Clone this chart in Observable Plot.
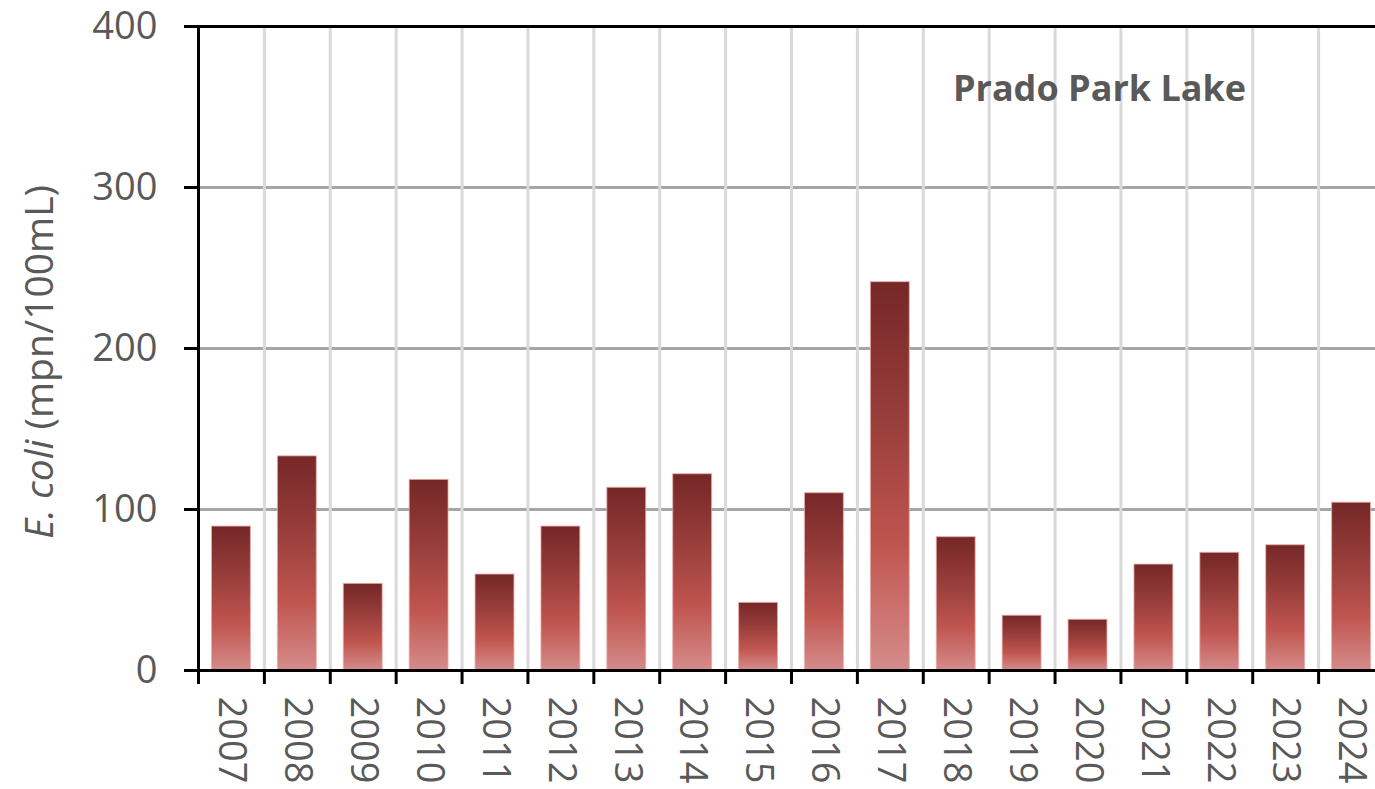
<!DOCTYPE html>
<html>
<head>
<meta charset="utf-8">
<script src="https://cdn.jsdelivr.net/npm/d3@7"></script>
<script src="https://cdn.jsdelivr.net/npm/@observablehq/plot@0.6"></script>
<style>
  html, body { margin: 0; padding: 0; background: #fff; overflow: hidden; }
  #chart { width: 1375px; height: 789px; overflow: hidden; }
  #chart svg { max-width: none !important; }
</style>
</head>
<body>
<svg width="0" height="0" style="position:absolute">
  <defs>
    <linearGradient id="barGrad" x1="0" y1="0" x2="0" y2="1">
      <stop offset="0" stop-color="#752727"/>
      <stop offset="0.35" stop-color="#983e3b"/>
      <stop offset="0.68" stop-color="#c0554f"/>
      <stop offset="1" stop-color="#d58c8b"/>
    </linearGradient>
  </defs>
</svg>
<div id="chart"></div>
<script>
const years = [2007, 2008, 2009, 2010, 2011, 2012, 2013, 2014, 2015, 2016, 2017, 2018, 2019, 2020, 2021, 2022, 2023, 2024];
const ecoli = [89.4, 133, 53.8, 118.4, 59.6, 89.4, 113.5, 121.9, 42, 110.1, 241.2, 82.8, 34, 31.5, 65.8, 73.1, 77.8, 104.2];
const yTicks = [0, 100, 200, 300, 400];
const chartTitle = "Prado Park Lake";
const yLabelItalic = "E. coli";
const yLabelRest = " (mpn/100mL)";

const data = years.map((year, i) => ({year, value: ecoli[i]}));
const boundaries = [...years.map(y => y - 0.5), years[years.length - 1] + 0.5];
const innerBoundaries = boundaries.slice(1, -1);
const grey = "#595959";
const font = "'Open Sans', sans-serif";

const plot = Plot.plot({
  width: 1390,
  height: 789,
  marginLeft: 198,
  marginRight: 6,
  marginTop: 26,
  marginBottom: 119,
  style: {fontFamily: font, background: "white", maxWidth: "none"},
  x: {type: "linear", domain: [boundaries[0], boundaries[boundaries.length - 1]]},
  y: {domain: [yTicks[0], yTicks[yTicks.length - 1]]},
  marks: [
    Plot.ruleY(yTicks.slice(1, -1), {stroke: "#a6a6a6", strokeWidth: 3}),
    Plot.ruleX(innerBoundaries, {stroke: "#d9d9d9", strokeWidth: 3}),
    Plot.rectY(data, {
      x1: d => d.year - 0.5,
      x2: d => d.year + 0.5,
      y: "value",
      insetLeft: 13.5,
      insetRight: 13.5,
      fill: "url(#barGrad)",
      stroke: "#e9aaa8",
      strokeWidth: 1,
      strokeOpacity: 0.8
    }),
    Plot.ruleY([yTicks[0]], {stroke: "black", strokeWidth: 3}),
    Plot.ruleY([yTicks[yTicks.length - 1]], {stroke: "black", strokeWidth: 3}),
    Plot.ruleX([boundaries[0]], {stroke: "black", strokeWidth: 3}),
    Plot.axisY({ticks: yTicks, tickSize: 14, tickFormat: () => "", stroke: "black", strokeWidth: 3, label: null}),
    Plot.axisY({ticks: yTicks, tickSize: 0, tickPadding: 41, fontSize: 38, fill: grey, label: null}),
    Plot.axisX({ticks: boundaries, tickSize: 14, tickFormat: () => "", stroke: "black", strokeWidth: 3, label: null}),
    Plot.axisX({ticks: years, tickSize: 0, tickPadding: 26, tickRotate: 90, fontSize: 38, fill: grey, tickFormat: d => String(d), label: null}),
    Plot.text([chartTitle], {
      text: d => d,
      frameAnchor: "top-right",
      textAnchor: "middle",
      lineAnchor: "middle",
      dx: -285,
      dy: 63,
      fontSize: 36,
      fontWeight: "bold",
      fill: grey
    })
  ]
});

document.getElementById("chart").appendChild(plot);

const svg = d3.select(plot);
// white background box behind the title
svg.selectAll("text").filter(function() { return this.textContent === chartTitle; }).each(function() {
  const bb = this.getBBox();
  const cy = bb.y + bb.height / 2;
  d3.select(this.parentNode).insert("rect", () => this)
    .attr("x", bb.x - 48)
    .attr("y", cy - 34)
    .attr("width", bb.width + 96)
    .attr("height", 68)
    .attr("fill", "white");
});

// y-axis title with italic species name
const yl = svg.append("text")
  .attr("transform", "translate(53,362) rotate(-90)")
  .attr("text-anchor", "middle")
  .attr("font-family", font)
  .attr("font-size", 39)
  .attr("fill", grey);
yl.append("tspan").attr("font-style", "italic").text(yLabelItalic);
yl.append("tspan").text(yLabelRest);
</script>
</body>
</html>
